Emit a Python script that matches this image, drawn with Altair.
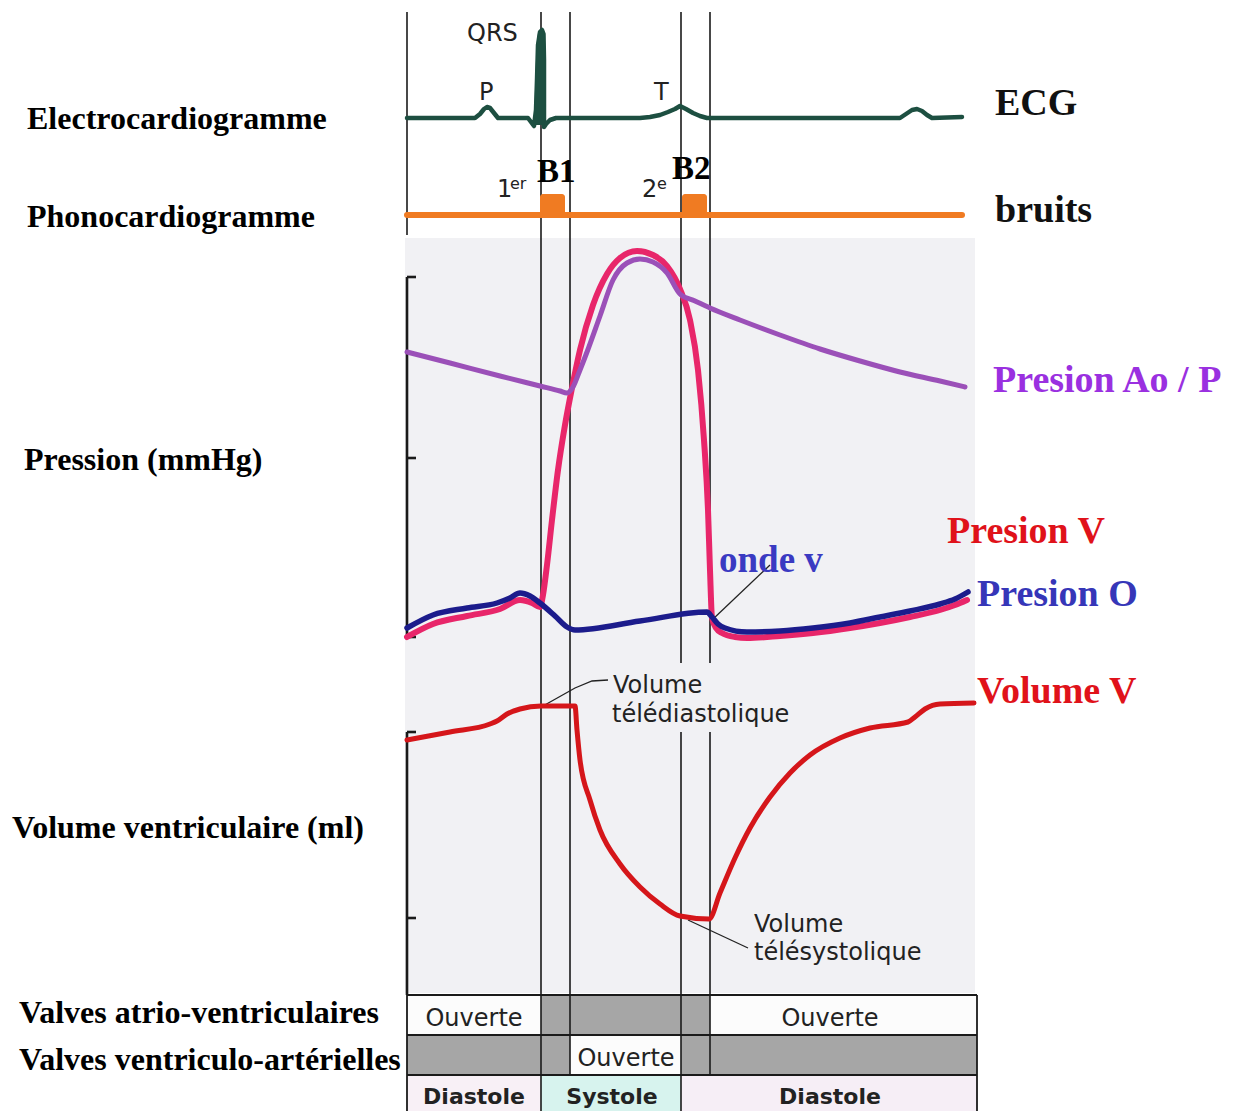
import altair as alt
import pandas as pd

# ---------------- data (pixel units of the figure) -------------
# ECG trace
ecg_x = [407, 475, 480, 484, 487, 490, 494, 498, 528, 531, 534, 536, 537, 538, 540, 542, 543.5, 544, 544, 546, 550, 556,
         640, 650, 660, 668, 675, 680, 686, 693, 700, 707, 900, 906, 912, 917, 922, 927, 932, 962]
ecg_y = [118, 118, 114, 109, 107, 108, 113, 118, 118, 122, 126, 110, 80, 45, 32, 30, 34, 60, 127, 124, 120, 118,
         118, 117, 115, 112, 109, 106, 109, 113, 116, 118, 118, 114, 110, 109, 111, 115, 118, 117]
# QRS spike body (filled)
spike_y = [30, 33, 40, 60, 90, 110, 120, 125]
spike_xl = [540, 538, 537, 536, 535, 534.5, 534, 534]
spike_xr = [543, 544, 544.5, 544.5, 544.5, 544.5, 544.5, 544.5]

# Phonocardiogram
phono_x = [407, 962]
phono_y = [215, 215]
sound_x1 = [540, 682]
sound_x2 = [565, 707]
sound_top = [194, 194]
sound_bot = [218, 218]

# Aortic / pulmonary pressure
ao_x = [407, 450, 500, 540, 560, 567, 573, 580, 587, 600, 613, 627, 640, 653, 667, 680, 695, 710, 740, 780, 820,
        860, 900, 940, 965]
ao_y = [352, 363, 376, 386, 391, 393, 387, 370, 352, 316, 280, 263, 259, 262, 273, 294, 301, 308, 320, 335, 349,
        361, 372, 381, 387]

# Ventricular pressure
v_x = [407, 433, 467, 500, 520, 532, 540, 543, 547, 552, 558, 565, 572, 580, 593, 607, 620, 637, 653, 667, 680,
       690, 698, 704, 708, 710, 712, 716, 722, 735, 747, 780, 813, 850, 880, 910, 940, 955, 967]
v_y = [637, 624, 616, 609, 600, 603, 607, 595, 565, 520, 470, 425, 388, 350, 305, 274, 258, 251, 255, 266, 289,
       320, 370, 440, 510, 570, 618, 628, 633, 637, 638, 636, 633, 628, 623, 617, 610, 605, 600]

# Atrial pressure
o_x = [407, 433, 467, 497, 510, 520, 530, 540, 555, 567, 575, 640, 707, 712, 718, 725, 747, 780, 813, 850, 880,
       910, 940, 955, 968]
o_y = [628, 615, 608, 603, 598, 593, 596, 603, 616, 627, 630, 621, 612, 617, 624, 628, 632, 631, 628, 623, 617,
       611, 604, 599, 592]

# Ventricular volume
vol_x = [407, 450, 490, 497, 507, 520, 541, 575, 577, 580, 590, 600, 620, 640, 660, 680, 709, 720, 735, 750, 770,
         790, 810, 840, 870, 908, 915, 925, 940, 974]
vol_y = [740, 732, 724, 721, 714, 709, 706, 706, 730, 760, 800, 830, 864, 887, 904, 916, 919, 893, 858, 828, 797,
         773, 755, 738, 728, 722, 717, 709, 704, 703]

# Straight frame segments: vertical event lines, brackets, table grid
seg_x1 = [407, 541, 570, 681, 681, 710, 710, 407, 407, 407, 407, 407, 407, 407,
          407, 407, 407, 407, 977]
seg_y1 = [12, 12, 12, 12, 732, 12, 732, 277, 277, 458, 637, 732, 732, 918,
          995, 1035, 1075, 995, 995]
seg_x2 = [407, 541, 570, 681, 681, 710, 710, 407, 416, 416, 416, 407, 416, 416,
          977, 977, 977, 407, 977]
seg_y2 = [235, 1119, 1075, 663, 1119, 663, 1075, 637, 277, 458, 637, 995, 732, 918,
          995, 1035, 1075, 1119, 1119]
seg_w = [1.6, 1.6, 1.6, 1.6, 1.6, 1.6, 1.6, 2.6, 2.6, 2.6, 2.6, 2.6, 2.6, 2.6,
         1.8, 1.8, 1.8, 1.8, 1.8]

# Leader lines
lead_x = [712, 770, None, 543, 575, 592, 608, None, 688, 748]
lead_id = [0, 0, None, 1, 1, 1, 1, None, 2, 2]
lead_y = [620, 565, None, 706, 688, 681, 680, None, 920, 948]

# Table cells
cell_x1 = [407, 541, 710, 407, 570, 681, 407, 541, 681]
cell_x2 = [541, 710, 977, 570, 681, 977, 541, 681, 977]
cell_y1 = [995, 995, 995, 1035, 1035, 1035, 1075, 1075, 1075]
cell_y2 = [1035, 1035, 1035, 1075, 1075, 1075, 1119, 1119, 1119]
cell_c = ["#fcfcfc", "#a6a6a6", "#fcfcfc", "#a6a6a6", "#fcfcfc", "#a6a6a6", "#f8f0f6", "#d7f3ee", "#f6eef6"]

# Texts
left_text = ["Electrocardiogramme", "Phonocardiogramme", "Pression (mmHg)", "Volume ventriculaire (ml)",
             "Valves atrio-ventriculaires", "Valves ventriculo-artérielles"]
left_x = [27, 27, 24, 12, 19, 19]
left_y = [129, 227, 470, 838, 1023, 1070]

right_text = ["ECG", "bruits", "Presion Ao / P", "Presion V", "Presion O", "Volume V"]
right_x = [995, 995, 993, 947, 977, 977]
right_y = [115, 222, 392, 543, 606, 703]
right_c = ["#111111", "#111111", "#9a30e0", "#e0121a", "#3636b8", "#e0121a"]

sans_text = ["QRS", "P", "T", "1", "2", "Volume", "télédiastolique", "Volume", "télésystolique"]
sans_x = [467, 479, 654, 497, 642, 613, 612, 754, 754]
sans_y = [41, 100, 100, 197, 197, 693, 722, 932, 960]
sup_text = ["er", "e"]
sup_x = [510, 657]
sup_y = [189, 189]

bold_serif_text = ["B1", "B2"]
bold_serif_x = [537, 672]
bold_serif_y = [182, 179]

table_text = ["Ouverte", "Ouverte", "Ouverte"]
table_x = [474, 830, 626]
table_y = [1026, 1026, 1066]
phase_text = ["Diastole", "Systole", "Diastole"]
phase_x = [474, 612, 830]
phase_y = [1104, 1104, 1104]

# ---------------- chart -------------------------------------------------------------
X = alt.Scale(domain=[8, 1236], nice=False, zero=False)
Y = alt.Scale(domain=[8, 1111], nice=False, zero=False, reverse=True)


def xq(f="x"):
    return alt.X(f + ":Q", scale=X, axis=None)


def yq(f="y"):
    return alt.Y(f + ":Q", scale=Y, axis=None)


def curve(xs, ys, color, width, interp="linear"):
    df = pd.DataFrame({"x": xs, "y": ys, "i": list(range(len(xs)))})
    return alt.Chart(df).mark_line(color=color, strokeWidth=width, strokeJoin="round",
                                   strokeCap="round", interpolate=interp).encode(x=xq(), y=yq(), order="i:Q")


bg = alt.Chart(pd.DataFrame({"x": [405], "x2": [975], "y": [238], "y2": [993]})).mark_rect(
    color="#f1f1f4").encode(x=xq(), x2="x2:Q", y=yq(), y2="y2:Q")

cells = alt.Chart(pd.DataFrame({"x": cell_x1, "x2": cell_x2, "y": cell_y1, "y2": cell_y2, "c": cell_c})).mark_rect(
).encode(x=xq(), x2="x2:Q", y=yq(), y2="y2:Q", color=alt.Color("c:N", scale=None))

segs = alt.Chart(pd.DataFrame({"x": seg_x1, "y": seg_y1, "x2": seg_x2, "y2": seg_y2, "w": seg_w})).mark_rule(
    color="#1a1a1a").encode(x=xq(), y=yq(), x2="x2:Q", y2="y2:Q", strokeWidth=alt.StrokeWidth("w:Q", scale=None))

lead_df = pd.DataFrame({"x": lead_x, "y": lead_y, "g": lead_id}).dropna()
lead_df["i"] = range(len(lead_df))
leaders = alt.Chart(lead_df).mark_line(color="#222222", strokeWidth=1.3).encode(
    x=xq(), y=yq(), detail="g:N", order="i:Q")

ecg = curve(ecg_x, ecg_y, "#1d4f41", 4.5)
spike = alt.Chart(pd.DataFrame({"y": spike_y, "xl": spike_xl, "xr": spike_xr})).mark_area(
    orient="horizontal", color="#1d4f41").encode(y=yq(), x=xq("xl"), x2="xr:Q")

phono = curve(phono_x, phono_y, "#f07b22", 6)
sounds = alt.Chart(pd.DataFrame({"x": sound_x1, "x2": sound_x2, "y": sound_top, "y2": sound_bot})).mark_rect(
    color="#f07b22", cornerRadiusTopLeft=3, cornerRadiusTopRight=3).encode(x=xq(), x2="x2:Q", y=yq(), y2="y2:Q")

pv = curve(v_x, v_y, "#e8266a", 6, "monotone")
pao = curve(ao_x, ao_y, "#9b50b8", 5, "monotone")
po = curve(o_x, o_y, "#1c1c8c", 5.5, "monotone")
vol = curve(vol_x, vol_y, "#d5161a", 5, "monotone")


def texts(txt, xs, ys, font, size, weight="normal", color="#222222", align="left", colors=None):
    df = pd.DataFrame({"x": xs, "y": ys, "t": txt})
    enc = dict(x=xq(), y=yq(), text="t:N")
    kw = dict(font=font, fontSize=size, fontWeight=weight, align=align, baseline="alphabetic")
    if colors is not None:
        df["c"] = colors
        enc["color"] = alt.Color("c:N", scale=None)
    else:
        kw["color"] = color
    return alt.Chart(df).mark_text(**kw).encode(**enc)


t_left = texts(left_text, left_x, left_y, "Liberation Serif", 32, "bold", "#000000")
t_right = texts(right_text, right_x, right_y, "Liberation Serif", 38, "bold", colors=right_c)
t_onde = texts(["onde v"], [719], [572], "Liberation Serif", 37, "bold", "#3a3ac2")
t_b = texts(bold_serif_text, bold_serif_x, bold_serif_y, "Liberation Serif", 33, "bold", "#000000")
t_sans = texts(sans_text, sans_x, sans_y, "DejaVu Sans", 24, "normal", "#222222")
t_sup = texts(sup_text, sup_x, sup_y, "DejaVu Sans", 16, "normal", "#222222")
t_table = texts(table_text, table_x, table_y, "DejaVu Sans", 24, "normal", "#222222", align="center")
t_phase = texts(phase_text, phase_x, phase_y, "DejaVu Sans", 22, "bold", "#222222", align="center")

chart = alt.layer(
    bg, cells, segs, leaders, phono, sounds, ecg, spike, pv, pao, po, vol,
    t_left, t_right, t_onde, t_b, t_sans, t_sup, t_table, t_phase
).properties(
    width=1228, height=1103, padding=0, autosize=alt.AutoSizeParams(type="none"), background="#ffffff"
).configure_view(stroke=None)

chart.save("out.html", embed_options={"renderer": "svg", "actions": False})
